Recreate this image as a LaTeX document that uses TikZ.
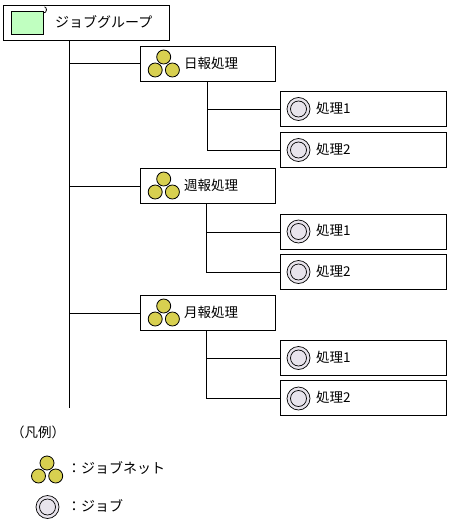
\documentclass[tikz,border=0pt]{standalone}
\usepackage{fontspec}
\setmainfont{Noto Sans CJK JP}[Scale=1]
\tikzset{
  x=1pt,y=-1pt,
  line/.style={draw=black,line width=1pt},
  box/.style={draw=black,line width=1pt,fill=white,inner sep=0,outer sep=0,anchor=north west},
  rootbox/.style={box,minimum width=166pt,minimum height=35pt},
  netbox/.style={box,minimum width=135pt,minimum height=35pt},
  jobbox/.style={box,minimum width=166pt,minimum height=35pt},
  lbl/.style={anchor=west,inner sep=0,font=\fontsize{13.5pt}{14pt}\selectfont},
  lblk/.style={anchor=west,inner sep=0,font=\fontsize{14pt}{15pt}\selectfont},
  netc/.style={draw=black,line width=0.8pt,fill=netyellow},
  jobo/.style={draw=black,line width=0.7pt,fill=jobgray},
}
\definecolor{netyellow}{HTML}{D8D050}
\definecolor{jobgray}{HTML}{E8E4EC}
\definecolor{groupgreen}{HTML}{C0FFC0}
\newcommand{\neticon}[2]{%
  \begin{scope}[shift={(#1,#2)}]
    \draw[netc] (0,-6.5) circle (7);
    \draw[netc] (-8.5,6.5) circle (7);
    \draw[netc] (8.7,6.5) circle (7);
  \end{scope}}
\newcommand{\jobicon}[2]{%
  \begin{scope}[shift={(#1,#2)}]
    \draw[jobo] (0,0) circle (11.5);
    \draw[jobo] (0,0) circle (8);
  \end{scope}}
\begin{document}
\begin{tikzpicture}
\useasboundingbox[fill=white] (0,0) rectangle (449,527);
% tree boxes
\node[rootbox] (root) at (3.5,5.5) {};
\node[netbox] (n1) at (140.5,46.5) {};
\node[netbox] (n2) at (140.5,168.5) {};
\node[netbox] (n3) at (140.5,295.5) {};
\node[jobbox] (j11) at (280.5,91.5) {};
\node[jobbox] (j12) at (280.5,132.5) {};
\node[jobbox] (j21) at (280.5,214.5) {};
\node[jobbox] (j22) at (280.5,254.5) {};
\node[jobbox] (j31) at (280.5,340.5) {};
\node[jobbox] (j32) at (280.5,380.5) {};
% connectors
\coordinate (tt) at (69.5,40.5);
\coordinate (te) at (69.5,408);
\draw[line] (tt) -- (te);
\foreach \n in {n1,n2,n3}{\draw[line] (\n.west) -- (\n.west -| tt);}
\coordinate (s1) at (207.5,81.5);
\coordinate (s2) at (206.5,203.5);
\coordinate (s3) at (206.5,330.5);
\draw[line] (s1) |- (j11.west);
\draw[line] (s1) |- (j12.west);
\draw[line] (s2) |- (j21.west);
\draw[line] (s2) |- (j22.west);
\draw[line] (s3) |- (j31.west);
\draw[line] (s3) |- (j32.west);
% root icon
\draw[black,line width=0.8pt] (43.5,13) arc (90:-70:3 and 3.2);
\draw[black,line width=0.8pt,fill=groupgreen] (11.5,11.5) rectangle (43.5,34.5);
% icons
\neticon{163.7}{63.5}
\neticon{163.7}{185.5}
\neticon{163.7}{312.5}
\jobicon{298.5}{109}
\jobicon{298.5}{150}
\jobicon{298.5}{231.5}
\jobicon{298.5}{272}
\jobicon{298.5}{358}
\jobicon{298.5}{398.5}
% labels
\node[lblk] (troot) at (55,22) {ジョブグループ};
\node[lbl] (tn1) at (184,63) {日報処理};
\node[lbl] (tn2) at (184,185) {週報処理};
\node[lbl] (tn3) at (184,312) {月報処理};
\node[lbl] (t11) at (316,108) {処理1};
\node[lbl] (t12) at (316,149) {処理2};
\node[lbl] (t21) at (316,230) {処理1};
\node[lbl] (t22) at (316,271) {処理2};
\node[lbl] (t31) at (316,357) {処理1};
\node[lbl] (t32) at (316,397) {処理2};
% legend
\node[lbl] (tl) at (11,432) {（凡例）};
\neticon{47}{469.5}
\jobicon{47.5}{507}
\node[lblk] (tl1) at (67,468) {：ジョブネット};
\node[lblk] (tl2) at (67,506) {：ジョブ};
\end{tikzpicture}
\end{document}
